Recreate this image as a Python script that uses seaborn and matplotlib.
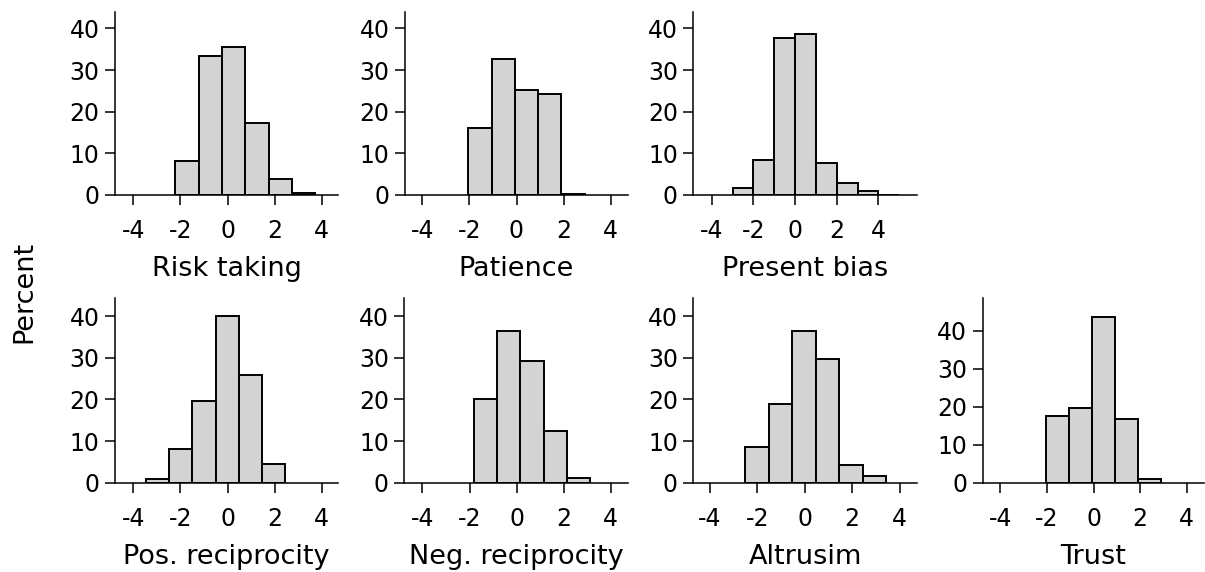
import numpy as np
import matplotlib
matplotlib.use("Agg")
import matplotlib.pyplot as plt
import seaborn as sns

sns.set_theme(style="ticks", rc={"text.color": "black", "axes.labelcolor": "black",
                                 "xtick.color": "black", "ytick.color": "black",
                                 "axes.edgecolor": "black"})
plt.rcParams["font.family"] = ["DejaVu Sans"]

# DATA: percent of respondents per bin, bin start and bin width for each trait
titles = ["Risk taking", "Patience", "Present bias",
          "Pos. reciprocity", "Neg. reciprocity", "Altrusim", "Trust"]

risk_pct = [8.1, 33.3, 35.6, 17.3, 3.8, 0.6]
patience_pct = [16.1, 32.6, 25.2, 24.3, 0.3]
present_pct = [1.8, 8.4, 37.8, 38.6, 7.8, 3.0, 0.9, 0.1]
posrec_pct = [0.9, 8.0, 19.6, 40.0, 25.8, 4.5]
negrec_pct = [20.0, 36.5, 29.1, 12.4, 1.2]
altruism_pct = [8.5, 18.8, 36.5, 29.7, 4.2, 1.6]
trust_pct = [17.5, 19.7, 43.7, 16.7, 1.1]

bin_start = [-2.22, -2.04, -3.0, -3.48, -1.82, -2.51, -2.03]
bin_width = [0.99, 0.985, 1.0, 0.99, 0.99, 0.99, 0.985]

x_ticks = [-4, -2, 0, 2, 4]
y_ticks = [0, 10, 20, 30, 40]

all_pct = [risk_pct, patience_pct, present_pct, posrec_pct,
           negrec_pct, altruism_pct, trust_pct]

# layout in pixels: left, right, top, bottom ; axis ranges
W, H = 1205, 572
boxes = [
    (115, 338, 11.7, 195), (405, 628, 11.7, 195), (693.3, 916.7, 11.7, 195),
    (115, 338, 298.3, 482.7), (404.3, 627.7, 298.3, 482.7),
    (693.3, 916.7, 298.3, 482.7), (982.7, 1203.5, 298.3, 482.7),
]
xlims = [(-4.78, 4.69), (-4.73, 4.73), (-4.89, 5.84), (-4.78, 4.69),
         (-4.77, 4.72), (-4.70, 4.72), (-4.76, 4.72)]
ylims = [(0, 44), (0, 44), (0, 44), (0, 44.25), (0, 44.25), (0, 44.25), (0, 48.5)]

fig = plt.figure(figsize=(W / 100, H / 100), dpi=100)

for i, (pct, title) in enumerate(zip(all_pct, titles)):
    l, r, t, b = boxes[i]
    ax = fig.add_axes([l / W, 1 - b / H, (r - l) / W, (b - t) / H])
    n = len(pct)
    lo = bin_start[i]
    hi = lo + n * bin_width[i]
    centers = lo + bin_width[i] * (np.arange(n) + 0.5)
    sns.histplot(x=centers, weights=pct, bins=n, binrange=(lo, hi),
                 color="#d3d3d3", edgecolor="black", linewidth=1.4,
                 alpha=1, ax=ax)
    ax.set_xlim(*xlims[i])
    ax.set_ylim(*ylims[i])
    ax.set_xticks(x_ticks)
    ax.set_yticks(y_ticks)
    ax.set_xticklabels([str(v) for v in x_ticks])
    ax.set_ylabel("")
    ax.set_xlabel(title, fontsize=19.5, labelpad=9)
    ax.tick_params(axis="both", labelsize=17, length=7.5, width=1.1,
                   color="black")
    ax.tick_params(axis="x", pad=10)
    ax.tick_params(axis="y", pad=3.6)
    for s in ["top", "right"]:
        ax.spines[s].set_visible(False)
    for s in ["left", "bottom"]:
        ax.spines[s].set_linewidth(1.1)
        ax.spines[s].set_zorder(5)
    ax.set_facecolor("white")

fig.text(24 / W, 1 - 292 / H, "Percent", rotation=90, ha="center",
         va="center", fontsize=19.5)

plt.savefig("out.png", dpi=100)
